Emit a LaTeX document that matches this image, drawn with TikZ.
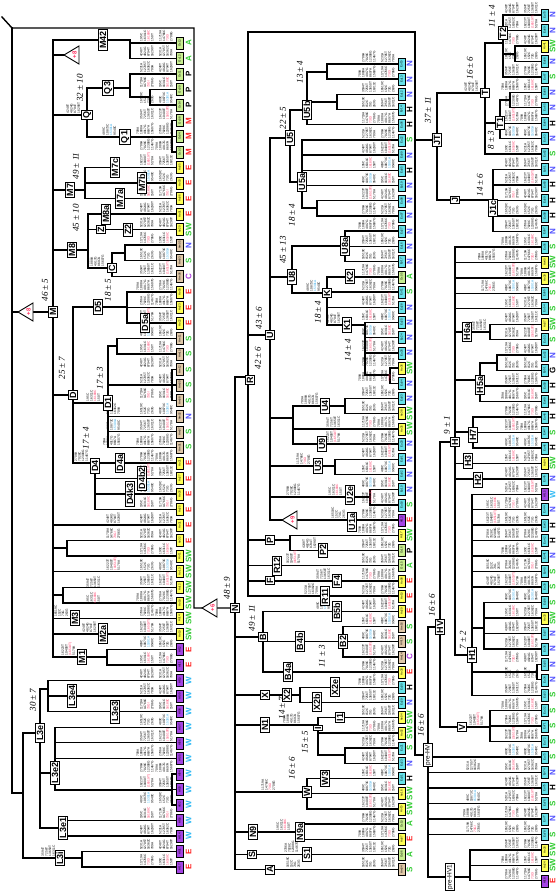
\documentclass[tikz,border=0pt]{standalone}
\usepackage{fontspec}
\setmainfont{Liberation Serif}
\setsansfont{Liberation Sans}
\usetikzlibrary{calc}
\definecolor{oc}{HTML}{C8EE90}
\definecolor{ao}{HTML}{FFFF55}
\definecolor{am}{HTML}{E0C8A8}
\definecolor{af}{HTML}{A444E4}
\definecolor{eu}{HTML}{66E2EA}
\definecolor{colE}{HTML}{FF2020}
\definecolor{colM}{HTML}{FF2020}
\definecolor{colW}{HTML}{33BBF5}
\definecolor{colS}{HTML}{33CC33}
\definecolor{colSW}{HTML}{33CC33}
\definecolor{colA}{HTML}{33CC33}
\definecolor{colN}{HTML}{5050FF}
\definecolor{colC}{HTML}{AA33DD}
\definecolor{colP}{HTML}{000000}
\definecolor{colH}{HTML}{000000}
\definecolor{colG}{HTML}{000000}
\definecolor{mred}{HTML}{FF3060}
\definecolor{mblue}{HTML}{30A8E8}
\newcommand\rd[1]{\textcolor{mred}{#1}}
\newcommand\bl[1]{\textcolor{mblue}{#1}}
\newcommand\mutx[1]{\ifcase#1
16519C\\152C\\73G\\263G\or
4248T\\4824G\\8794T\\16290T\or
16223T\\10400T\\\rd{(16519T)}\\5178A\or
3594T\\7256T\\13650T\\16311C\or
5231A\\12705T\\16362C\\709A\or
489C\\10873C\\\bl{15301A}\\9540C\or
709A\\1888A\\4917G\\8697A\\15607G\or
11719A\\14766C\\\rd{73G!}\\2706G\or
195C\\16311C\\\rd{16189C}\\150T\or
2706A\\7028C\\12308G\\11467G\fi}
\tikzset{
  trl/.style={line width=1.4pt,line cap=rect},
  leaf/.style={draw,line width=0.5pt,rotate=90,minimum width=12pt,minimum height=7.5pt,inner sep=0pt,font=\sffamily\fontsize{2.9}{3}\selectfont},
  rg/.style={rotate=90,inner sep=0pt,font=\sffamily\bfseries\fontsize{8}{8}\selectfont},
  hg/.style={draw,fill=white,line width=1pt,rotate=90,inner sep=1.3pt,font=\sffamily\bfseries\fontsize{9}{9}\selectfont},
  hgs/.style={draw,fill=white,line width=0.9pt,rotate=90,inner sep=1.2pt,font=\sffamily\fontsize{6.5}{6.5}\selectfont},
  age/.style={rotate=90,inner sep=0pt,font=\itshape\fontsize{9}{9}\selectfont},
  mut/.style={rotate=90,inner sep=0pt,align=left,font=\sffamily\fontsize{3.2}{3.6}\selectfont}
}
\newcommand\EdgeTo[2]{\foreach \cc in {#2}{\draw[trl] (#1) |- (\cc);}}
\newcommand\LeafTo[2]{\foreach \cc in {#2}{\draw[trl] (#1) |- (\cc.north);}}
\newcommand\tri[4]{%
  \filldraw[fill=white,line width=0.9pt,line join=miter] (#2-8,#3) -- (#2+7,#3-9) -- (#2+7,#3+9) -- cycle;
  \node[rotate=90,text=mred,inner sep=0pt,font=\sffamily\bfseries\fontsize{6}{6}\selectfont] (#1) at (#2+2.5,#3) {#4};}
\begin{document}
\begin{tikzpicture}[x=1pt,y=-1pt]
\useasboundingbox (0,0) rectangle (558,893);
\fill[white] (0,0) rectangle (558,893);

% ---------------- leaves ----------------
\foreach \lab/\cl/\rg [count=\i] in {Oc13/oc/A,Oc12/oc/A,Oc11/oc/P,Oc09/oc/P,Oc14/oc/P,Oc08/oc/M,Oc04/oc/M,Oc03/oc/M,Ao05/ao/E,Ao03/ao/E,Ao06/ao/E,Ao01/ao/E,Ao20/ao/SW,Am05/am/N,Am03/am/S,Am06/am/C,Ao09/ao/E,Ao23/ao/E,Ao22/ao/E,Am11/am/S,Am10/am/S,Am12/am/S,Am09/am/S,Am08/am/S,Am02/am/N,Am07/am/S,Am01/am/S,Ao21/ao/E,Ao27/ao/E,Ao26/ao/E,Ao25/ao/E,Ao31/ao/E,Ao32/ao/E,Ao11/ao/SW,Ao13/ao/SW,Ao12/ao/SW,Ao18/ao/SW,Ao14/ao/SW,Ao19/ao/SW,Af12/af/E,Af11/af/E,Af10/af/W,Af09/af/W,Af08/af/W,Af07/af/W,Af06/af/W,Af05/af/W,Af04/af/W,Af03/af/W,Af02/af/W,Af16/af/W,Af14/af/W,Af01/af/E,Af17/af/E}{
  \pgfmathsetmacro\yy{43+(\i-1)*15.55}
  \node[leaf,fill=\cl] (a\i) at (179.5,\yy) {\lab};
  \node[rg,text=col\rg] (ra\i) at (188.5,\yy) {\rg};
}
\foreach \lab/\cl/\rg [count=\i] in {Eu15/eu/N,Eu13/eu/N,Eu12/eu/N,Eu14/eu/H,Eu06/eu/H,Eu22/eu/S,Eu09/eu/N,Eu05/eu/H,Eu19/eu/N,Eu08/eu/N,Eu07/eu/N,Eu27/eu/N,Eu16/eu/N,Eu17/eu/N,Oc05/oc/A,Eu11/eu/S,Eu28/eu/N,Eu25/eu/N,Eu24/eu/N,Eu26/eu/N,Ao36/ao/SW,Eu04/eu/N,Eu03/eu/N,Ao38/ao/SW,Ao35/ao/SW,Eu20/eu/N,Eu01/eu/N,Eu02/eu/N,Eu10/eu/N,Eu18/eu/S,Af13/af/E,Ao17/ao/SW,Oc16/oc/P,Oc15/oc/A,Ao08/ao/E,Ao10/ao/E,Ao29/ao/E,Am16/am/S,Am15/am/S,Am14/am/C,Ao30/ao/E,Eu30/eu/H,Eu29/eu/N,Ao04/ao/SW,Ao02/ao/SW,Eu21/eu/S,Eu23/eu/N,Eu31/eu/H,Ao16/ao/SW,Ao15/ao/SW,Oc10/oc/A,Ao07/ao/E,Oc06/oc/A,Am04/am/S}{
  \pgfmathsetmacro\yy{64+(\i-1)*15.2}
  \node[leaf,fill=\cl] (b\i) at (401.5,\yy) {\lab};
  \node[rg,text=col\rg] (rb\i) at (409.5,\yy) {\rg};
}
\foreach \lab/\cl/\rg [count=\i] in {Eu70/eu/N,Eu69/eu/N,Ao41/ao/SW,Eu68/eu/N,Eu67/eu/S,Eu66/eu/N,Eu65/eu/N,Eu64/eu/H,Eu63/eu/N,Eu62/eu/S,Eu61/eu/N,Eu60/eu/H,Eu59/eu/H,Eu58/eu/H,Eu57/eu/N,Eu56/eu/S,Ao40/ao/SW,Ao39/ao/SW,Eu55/eu/S,Eu54/eu/S,Ao37/ao/SW,Eu53/eu/S,Eu52/eu/N,Eu51/eu/G,Eu50/eu/H,Eu49/eu/H,Eu48/eu/H,Eu47/eu/S,Eu46/eu/H,Ao34/ao/SW,Eu45/eu/N,Af15/af/W,Eu44/eu/N,Eu43/eu/H,Eu42/eu/H,Eu41/eu/N,Eu40/eu/S,Eu39/eu/S,Eu38/eu/S,Ao33/ao/SW,Eu37/eu/N,Eu36/eu/N,Eu35/eu/N,Eu34/eu/N,Eu33/eu/S,Eu32/eu/S,Eu71/eu/S,Eu72/eu/S,Eu73/eu/S,Eu74/eu/N,Eu75/eu/H,Eu76/eu/S,Eu77/eu/N,Eu78/eu/S,Ao28/ao/SW,Ao24/ao/SW,Af18/af/E}{
  \pgfmathsetmacro\yy{15+(\i-1)*15.46}
  \node[leaf,fill=\cl] (c\i) at (544.5,\yy) {\lab};
  \node[rg,text=col\rg] (rc\i) at (552.5,\yy) {\rg};
}

% ---------------- panel 1 tree ----------------
\coordinate (p1a) at (2,17);
\coordinate (p1b) at (12,28);
\coordinate (p1c) at (194,28);
\coordinate (nN) at (235,608);
\coordinate (mM) at (53,312);
\coordinate (l3) at (23,793);
\coordinate (m42) at (130,40);
\coordinate (tri1) at (64,55);
\coordinate (qQ) at (87,115);
\coordinate (q3) at (130,88);
\coordinate (q3s) at (150,97);
\coordinate (q1) at (172,137);
\coordinate (m7) at (85,190);
\coordinate (m8) at (88,250);
\coordinate (cC) at (112,268);
\coordinate (cCs) at (125,253);
\coordinate (dD) at (73,395);
\coordinate (d5) at (127,307);
\coordinate (d1) at (108,403);
\coordinate (d1a) at (117,346);
\coordinate (d1c) at (172,385);
\coordinate (d4) at (95,463);
\coordinate (m33) at (67,548);
\coordinate (m36) at (63,595);
\coordinate (m1) at (107,657);
\coordinate (l3e) at (40,733);
\coordinate (l3i) at (82,858);
\coordinate (l3ea) at (48,689);
\coordinate (l3e2) at (55,773);
\coordinate (l3c) at (172,790);
\coordinate (l3e1) at (63,828);

\draw[trl] (p1a) -- (p1b) -- (p1c) |- (nN);
\EdgeTo{p1b}{mM,l3}
\EdgeTo{mM}{m42,qQ,m7,m8,dD,m33,m36,m1,tri1}
\LeafTo{mM}{a32,a35,a38,a39}
\LeafTo{m42}{a1,a2}
\EdgeTo{qQ}{q3,q1}
\LeafTo{q3}{a3}\EdgeTo{q3}{q3s}
\LeafTo{q3s}{a4,a5}
\LeafTo{q1}{a6,a7,a8}
\LeafTo{m7}{a9,a10,a11}
\LeafTo{m8}{a12,a13}\EdgeTo{m8}{cC}
\EdgeTo{cC}{cCs}\LeafTo{cC}{a16}
\LeafTo{cCs}{a14,a15}
\EdgeTo{dD}{d5,d1,d4}
\LeafTo{d5}{a17,a18,a19}
\EdgeTo{d1}{d1a,d1c}\LeafTo{d1}{a25,a26,a27}
\LeafTo{d1a}{a20,a21}
\LeafTo{d1c}{a22,a23,a24}
\LeafTo{d4}{a28,a29,a30,a31}
\LeafTo{m33}{a33,a34}
\LeafTo{m36}{a36,a37}
\LeafTo{m1}{a40,a41}
\EdgeTo{l3}{l3e,l3i}
\LeafTo{l3i}{a53,a54}
\EdgeTo{l3e}{l3ea,l3e2,l3e1}
\LeafTo{l3ea}{a42,a43,a44}
\LeafTo{l3e2}{a45,a46,a47}\EdgeTo{l3e2}{l3c}
\LeafTo{l3c}{a48,a49,a50}
\LeafTo{l3e1}{a51,a52}

% ---------------- panel 2 tree ----------------
\coordinate (rR) at (248,377);
\coordinate (rtop) at (248,32);
\coordinate (f3) at (415,32);
\coordinate (prehv) at (428,755);
\coordinate (uU) at (270,335);
\coordinate (u5) at (290,138);
\coordinate (u5b) at (307,110);
\coordinate (u5b1) at (327,72);
\coordinate (u5b2) at (337,102);
\coordinate (u5a) at (302,182);
\coordinate (u5a1) at (317,208);
\coordinate (u8) at (292,277);
\coordinate (u8a) at (345,246);
\coordinate (kK) at (327,293);
\coordinate (k1) at (365,325);
\coordinate (k1a) at (390,375);
\coordinate (u49) at (293,418);
\coordinate (u4) at (345,406);
\coordinate (u3) at (335,466);
\coordinate (u2e) at (370,497);
\coordinate (pP) at (290,540);
\coordinate (bB) at (263,637);
\coordinate (b2n) at (343,641.6);
\coordinate (xX) at (300,695);
\coordinate (iI) at (318,725);
\coordinate (i1s) at (345,755);
\coordinate (wW) at (307,792);
\coordinate (n9) at (300,832);

\draw[trl] (rR) -- (rtop) -- (f3) |- (prehv);
\EdgeTo{nN}{rR,bB,xX,iI,wW,n9}
\LeafTo{nN}{b53,b54}
\EdgeTo{rR}{uU,pP}
\LeafTo{rR}{b34,b35,b36}
\EdgeTo{uU}{u5,u8,u49,u3,u2e}
\LeafTo{uU}{b31}
\EdgeTo{u5}{u5b,u5a}
\EdgeTo{u5b}{u5b1,u5b2}\LeafTo{u5b}{b5}
\LeafTo{u5b1}{b1,b2}
\LeafTo{u5b2}{b3,b4}
\LeafTo{u5a}{b6,b7,b8,b9}\EdgeTo{u5a}{u5a1}
\LeafTo{u5a1}{b10,b11}
\EdgeTo{u8}{u8a,kK}
\LeafTo{u8a}{b12,b13,b14}
\LeafTo{kK}{b15,b16,b17}\EdgeTo{kK}{k1}
\LeafTo{k1}{b18,b19,b20}\EdgeTo{k1}{k1a}
\LeafTo{k1a}{b21,b22}
\EdgeTo{u49}{u4}\LeafTo{u49}{b25,b26}
\LeafTo{u4}{b23,b24}
\LeafTo{u3}{b27,b28}
\LeafTo{u2e}{b29,b30}
\LeafTo{pP}{b32,b33}
\LeafTo{bB}{b37,b41}\EdgeTo{bB}{b2n}
\LeafTo{b2n}{b38,b39,b40}
\LeafTo{xX}{b42,b43}
\LeafTo{iI}{b44,b45}\EdgeTo{iI}{i1s}
\LeafTo{i1s}{b46,b47}
\LeafTo{wW}{b48,b49,b50}
\LeafTo{n9}{b51,b52}

% ---------------- panel 3 tree ----------------
\coordinate (jt) at (437,140);
\coordinate (tT) at (485,93);
\coordinate (t2) at (503,43);
\coordinate (t2s) at (515,54);
\coordinate (t1) at (500,123);
\coordinate (t1s) at (510,100);
\coordinate (jj) at (493,200);
\coordinate (hv) at (440,627);
\coordinate (hH) at (455,442);
\coordinate (h6a) at (490,332);
\coordinate (h5a) at (480,380);
\coordinate (h5s) at (497,363);
\coordinate (h7) at (473,432);
\coordinate (h1) at (472,655);
\coordinate (h1a) at (484,628);
\coordinate (h1s) at (537,672);
\coordinate (vV) at (490,727);
\coordinate (ph1) at (470,877);

\EdgeTo{f3}{jt}
\EdgeTo{jt}{tT,jj}
\EdgeTo{tT}{t2,t1}\LeafTo{tT}{c10}
\LeafTo{t2}{c1,c2,c5}\EdgeTo{t2}{t2s}
\LeafTo{t2s}{c3,c4}
\EdgeTo{t1}{t1s}\LeafTo{t1}{c8,c9}
\LeafTo{t1s}{c6,c7}
\LeafTo{jj}{c11,c12,c13,c14,c15}
\EdgeTo{prehv}{hv,ph1}
\LeafTo{prehv}{c49,c50,c51,c52,c53,c54}
\EdgeTo{hv}{hH,vV}
\LeafTo{hH}{c16,c17,c18,c19,c20,c30,c31}
\EdgeTo{hH}{h6a,h5a,h7,h1}
\LeafTo{h6a}{c21,c22}
\EdgeTo{h5a}{h5s}\LeafTo{h5a}{c25,c26}
\LeafTo{h5s}{c23,c24}
\LeafTo{h7}{c27,c28,c29}
\LeafTo{h1}{c32,c33,c34,c35,c36,c37,c38,c45}
\EdgeTo{h1}{h1a,h1s}
\LeafTo{h1a}{c39,c40,c41,c42}
\LeafTo{h1s}{c43,c44}
\LeafTo{vV}{c46,c47,c48}
\LeafTo{ph1}{c55,c56,c57}

% ---------------- mutation texts ----------------
\foreach \i in {1,...,54}{\pgfmathtruncatemacro\k{mod(\i*7,10)}\pgfmathtruncatemacro\kk{mod(\i*3+5,10)}
  \node[mut,anchor=south west] (ma\i) at ($(a\i.north)+(-3,-1.5)$) {\mutx{\k}};
  \node[mut,anchor=south west] (na\i) at ($(a\i.north)+(-22,-1.5)$) {\mutx{\kk}};}
\foreach \i in {1,...,54}{\pgfmathtruncatemacro\k{mod(\i*3+1,10)}\pgfmathtruncatemacro\kk{mod(\i*7+2,10)}
  \node[mut,anchor=south west] (mb\i) at ($(b\i.north)+(-3,-1.5)$) {\mutx{\k}};
  \node[mut,anchor=south west] (nb\i) at ($(b\i.north)+(-22,-1.5)$) {\mutx{\kk}};}
\foreach \i in {1,...,57}{\pgfmathtruncatemacro\k{mod(\i*9+4,10)}\pgfmathtruncatemacro\kk{mod(\i*3+8,10)}
  \node[mut,anchor=south west] (mc\i) at ($(c\i.north)+(-3,-1.5)$) {\mutx{\k}};
  \node[mut,anchor=south west] (nc\i) at ($(c\i.north)+(-22,-1.5)$) {\mutx{\kk}};}
\foreach \x/\y/\k [count=\i] in {80/115/1,116/137/5,104/268/6,100/403/8,88/463/9,68/618.4/0,96/633.9/1,75/657/2,55/858/3,120/525.1/1,120/571.7/2,120/416.2/4,120/431.8/5,120/447.3/6,120/540.6/7,100/589/3,100/605/8,
  320/293/5,340/325/1,318/406/6,310/466/7,342/497/8,300/497/9,345/520/0,316/550.4/1,300/565.6/2,330/580.8/3,318/596/4,330/611.2/5,300/725/6,275/792/7,290/832/8,298/854.4/9,300/869.6/0,340/444/2,340/428.8/3,
  478/93/1,486/332/3,483/727/2,480/772.5/4,480/803.5/5,480/818.9/6,480/834.4/7,495/262.4/6,495/293.3/7,500/509.7/8,500/540.6/9,500/571.6/0,500/587/1,500/525.2/2}{
  \node[mut,anchor=south west] (mi\i) at (\x,\y-1.5) {\mutx{\k}};}

% ---------------- collapsed clades ----------------
\tri{tr0}{26}{312}{+8}
\tri{tr1}{72}{55}{+8}
\tri{tr2}{210}{608}{+6}
\tri{tr3}{290}{520}{+9}

% ---------------- haplogroup labels ----------------
\foreach \t/\x/\y [count=\i] in {M42/103/40,Q/87/115,Q3/108/88,Q1/125/137,M7/70/190,M7c/115/167.4,M7b/142/183,M7a/120/198.5,M8/72/250,M8a/106/214.1,Z/101/229.6,Z2/128/229.6,C/112/268,M/53/312,D5/98/307,D5a/145/322.9,D/73/395,D1/108/403,D4/95/466,D4a/120/462.9,D4b2/142/478.4,D4k3/130/494,M3/75/618.4,M2a/103/633.9,M1/82/657,L3e4/72/696.1,L3e3/115/711.7,L3e/40/733,L3e2/55/773,L3e1/63/828,L3i/60/858,
  U5b/307/110,U5/290/138,U5a/302/182,U8/292/277,U8a/345/246,K2/350/276.8,K/327/293,K1/347/325,U/270/335,R/250/380,U4/325/406,U9/322/444,U3/318/466,U2e/350/495,U1a/352/522,P/270/540,P2/323/550.4,R12/277/565.6,F/270/580.8,F4/337/580.8,R11/325/596,N/235/608,B5b/337/611.2,B/263/637,B4b/300/641.6,B2/343/641.6,B4a/288/672,X/265/695,X2/287/695,X2e/335/687.2,X2b/317/702.4,N1/265/725,I/318/728,I1/340/717.6,W3/325/778.4,W/307/792,N9/253/832,N9a/300/832,S/252/854.4,S1/307/854.4,A/270/869.6,
  T2/503/33,T/485/93,T1/500/123,JT/437/140,J/455/200,J1c/493/208,H6a/467/332,H5a/480/385,H/455/442,H7/473/435,H3/468/461,H2/478/480,HV/440/627,H1/472/655,V/462/727}{
  \node[hg] (g\i) at (\x,\y) {\t};}
\node[hgs] (gpre) at (428,755) {pre-HV};
\node[hgs] (gpre1) at (450,877) {pre-HV1};

% ---------------- age estimates ----------------
\foreach \t/\x/\y [count=\i] in {32 ± 10/80/88,49 ± 11/76/166,45 ± 10/76/218,18 ± 5/108/290,46 ± 5/45/290,25 ± 7/62/368,17 ± 3/100/378,17 ± 4/86/438,30 ± 7/33/700,48 ± 9/227/588,
  13 ± 4/300/72,22 ± 5/283/118,18 ± 4/292/215,45 ± 13/283/250,43 ± 6/259/318,18 ± 4/318/312,14 ± 4/348/350,42 ± 6/258/358,49 ± 11/252/618,11 ± 3/322/656,14 ± 7/282/708,15 ± 5/305/742,16 ± 6/292/768,
  11 ± 4/492/16,16 ± 6/470/68,8 ± 3/491/140,37 ± 11/428/110,14 ± 6/480/185,9 ± 1/447/425,16 ± 6/432/605,7 ± 2/463/640,16 ± 6/421/725}{
  \node[age] (t\i) at (\x,\y) {\t};}
\end{tikzpicture}
\end{document}
